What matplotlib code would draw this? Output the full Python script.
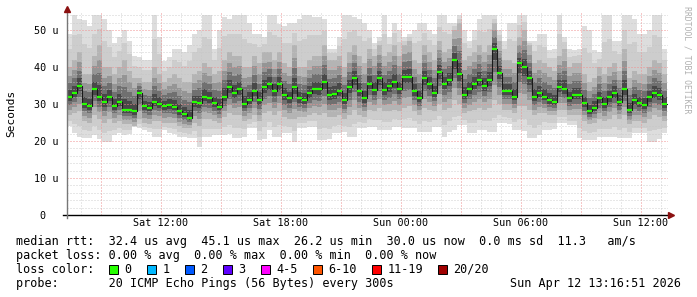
import numpy as np
import matplotlib
matplotlib.use('Agg')
import matplotlib.pyplot as plt
from matplotlib.patches import Rectangle
from matplotlib.ticker import MultipleLocator, FuncFormatter

plt.rcParams['font.family'] = 'DejaVu Sans Mono'

# time of first sample (hours after Sat 00:00) and step (15 min)
t_start = 7.3
t_step = 0.25

# median rtt (us) per sample
med = [32, 33, 35, 30, 29.5, 34, 32, 30.5, 32, 29.5, 30.5, 28.5, 28.5, 28, 33, 29.5, 29, 30.5, 30, 29.5,
       29.6, 29.3, 28, 27.3, 26.3, 30.5, 30.3, 32, 31.5, 30.2, 29.2, 32, 34.5, 33, 34, 30, 31.2, 33.5, 31, 34.5,
       35.5, 33.5, 35.5, 32.5, 31.5, 34.5, 31.5, 31, 33, 34, 34, 36, 32.5, 32.8, 33.5, 31, 34.5, 37, 33.5, 31.5,
       35.5, 33.8, 37, 33.8, 34.8, 36, 34, 37.4, 37.4, 33.5, 31.5, 37, 35.3, 33, 38.7, 35.5, 36.5, 42, 38, 32.5,
       34, 35.5, 36.5, 35, 36.5, 45, 38.5, 33.5, 33.5, 32, 41, 40, 37, 32, 33, 32, 31, 30.5, 34.5, 34,
       31.5, 32.5, 32.5, 30.2, 28, 29, 31.5, 30, 31.8, 33, 30.5, 34, 28.5, 31, 30.2, 29.8, 31.8, 33, 32.5, 30.0]

# outer smoke (slowest / fastest ping)
hi = [49, 54, 53, 52.7, 51, 54, 54, 53, 50, 46.5, 48, 50, 47, 43, 42.7, 42, 42, 54, 48, 41.5,
      42.7, 45, 45, 44, 46, 49, 50, 54, 54, 45, 50, 53.5, 53, 54, 54, 54, 52, 49, 49, 48,
      54, 54, 51.5, 51, 52, 52, 53, 54, 54, 53.5, 53.5, 53, 45, 45, 48, 54, 54, 53.5, 53, 52,
      50, 46.5, 48, 54, 48, 52, 50, 48, 49, 50, 52, 52, 50, 49, 54, 54, 52, 52, 54, 50,
      47, 50, 53, 54, 54, 54, 50, 47, 52, 52, 54, 54, 47, 47, 49, 49, 44.6, 45, 54, 48,
      45, 44.6, 45, 51, 50, 44.6, 44, 54, 54, 47, 47, 54, 54, 53, 49, 49, 50, 54, 54, 45]

lo = [24, 22.2, 21, 20.8, 20.8, 21.6, 20.5, 19.8, 19.8, 21.5, 22.1, 21.6, 21.8, 23.9, 23.5, 23, 22.5, 21.2, 21.2, 23,
      22.1, 22, 21.2, 21, 20.8, 20.8, 18.5, 21.2, 21.2, 21.6, 21.6, 21.6, 21.8, 20.7, 20.7, 21.2, 23.4, 23.4, 20.3, 20.5,
      23, 21.2, 21.2, 22.1, 22.1, 19.8, 23.4, 23.4, 23.9, 23.9, 20.3, 20.3, 20.5, 22.1, 22.1, 22.5, 21.2, 21.2, 23.4, 23.4,
      23.9, 23.9, 23, 23, 22.9, 23.9, 23.9, 23.4, 23.4, 23.4, 22.5, 22.5, 22.5, 23.9, 23.9, 21, 22.5, 23, 24.2, 24.3,
      22.1, 22.1, 23, 23, 22.5, 22.5, 24.8, 24.8, 24.5, 23, 23, 22.8, 20.7, 20.7, 21.5, 23, 23, 23.2, 24.8, 24.8,
      24.3, 24.3, 20.7, 20.3, 20.3, 20.3, 21.2, 21.2, 21.2, 21.2, 20.7, 20.7, 20.7, 22.1, 22.1, 22.1, 19.8, 19.8, 20.5, 22.1]

# inner smoke band
mhi = [40, 42, 44, 38, 38, 43, 46, 40, 40, 38, 40, 42, 39, 37, 37, 36, 36, 40, 38, 36,
       37, 38, 37, 36, 36, 38, 39, 41, 40, 38, 39, 42, 44, 43, 43, 40, 40, 43, 41, 44,
       44, 42, 44, 41, 40, 46, 40, 40, 42, 43, 43, 46, 42, 42, 43, 40, 44, 46, 43, 41,
       45, 43, 46, 43, 44, 46, 43, 46, 47, 42, 41, 46, 44, 42, 47, 44, 45, 50, 52, 42,
       43, 44, 46, 44, 46, 52, 47, 42, 42, 41, 48, 50, 46, 41, 42, 41, 40, 39, 43, 45,
       40, 41, 41, 38, 36, 37, 40, 38, 40, 41, 39, 45, 37, 39, 38, 38, 40, 42, 41, 38]

mlo = [27, 27.5, 28, 25.5, 25, 27, 26, 25, 26, 25, 25.5, 24.5, 24.5, 24, 26, 25, 24.5, 25.5, 25.5, 25,
       25, 25, 24, 23.5, 23.5, 25, 24, 26, 26, 25.5, 25, 26.5, 27.5, 27, 27, 25.5, 26, 27, 25.5, 27.5,
       28, 27, 28, 26.5, 26, 26, 26.5, 26.5, 27, 27.5, 27, 27.5, 26.5, 26.5, 27, 26, 27, 28.5, 27, 26.5,
       28.5, 28, 29, 28, 28, 28.5, 28, 29, 29.5, 28, 27, 29, 28.5, 28, 30, 28.5, 29, 31, 30, 27.5,
       28, 28.5, 29, 28.5, 29, 31, 30, 28.5, 28.5, 27.5, 29.5, 29.5, 28.5, 27, 27.5, 27.5, 27, 27, 28.5, 28.5,
       27, 27, 27, 25.5, 24.5, 25, 26, 25.5, 26, 27, 26, 27, 24.5, 25.5, 25.5, 25, 26, 27, 26.5, 25.5]

x_ticks = [12, 18, 24, 30, 36]
x_labels = ['Sat 12:00', 'Sat 18:00', 'Sun 00:00', 'Sun 06:00', 'Sun 12:00']
y_ticks = [0, 10, 20, 30, 40, 50]
y_labels = ['0  ', '10 u', '20 u', '30 u', '40 u', '50 u']

loss_labels = ['0', '1', '2', '3', '4-5', '6-10', '11-19', '20/20']
loss_colors = ['#26ff00', '#00b8ff', '#0059ff', '#5e00ff', '#ff00ff', '#ff5500', '#ff0000', '#a00000']

legend_lines = [
    'median rtt:  32.4 us avg  45.1 us max  26.2 us min  30.0 us now  0.0 ms sd  11.3   am/s',
    'packet loss: 0.00 % avg  0.00 % max  0.00 % min  0.00 % now',
    'loss color:',
    'probe:       20 ICMP Echo Pings (56 Bytes) every 300s',
]
stamp = 'Sun Apr 12 13:16:51 2026'

W, H = 697, 297
fig = plt.figure(figsize=(W / 100, H / 100), dpi=100)
fig.patch.set_facecolor('white')
ax = fig.add_axes([67 / W, 1 - 215 / H, 601 / W, 203.5 / H])

t = t_start + t_step * np.arange(len(med) + 1)
x_end = t[-1] + 0.05


def ext(a):
    return np.append(np.asarray(a, float), a[-1])


m, l1, h1, l2, h2 = ext(med), ext(lo), ext(hi), ext(mlo), ext(mhi)

# smoke shading, light outside, dark toward the median
shades = [('#dddddd', 1.0), ('#cdcdcd', 0.55)]
for col, f in shades:
    ax.fill_between(t, l2 + (l1 - l2) * f, h2 + (h1 - h2) * f, step='post', color=col, lw=0, zorder=1)
shades = [('#b4b4b4', 1.0), ('#959595', 0.7), ('#707070', 0.45), ('#484848', 0.22)]
for col, f in shades:
    ax.fill_between(t, m + (l2 - m) * f, m + (h2 - m) * f, step='post', color=col, lw=0, zorder=1)

ax.step(t, m, where='post', color='#1a1a1a', lw=0.8, zorder=3)
ax.hlines(med, t[:-1], t[1:], color=loss_colors[0], lw=1.6, zorder=4)

ax.set_xlim(t_start, x_end)
ax.set_ylim(0, 55)

lab = dict(zip(x_ticks, x_labels))
ax.xaxis.set_major_locator(MultipleLocator(3))
ax.xaxis.set_minor_locator(MultipleLocator(1))
ax.xaxis.set_major_formatter(FuncFormatter(lambda v, p: lab.get(int(round(v)), '')))
ax.yaxis.set_minor_locator(MultipleLocator(2))
ax.set_yticks(y_ticks)
ax.set_yticklabels(y_labels)

ax.set_axisbelow(False)
ax.grid(which='minor', color='#c4c4c4', lw=0.72, ls=(0, (1, 2)), alpha=0.8)
ax.grid(which='major', color='#f09090', lw=0.72, ls=(0, (1, 2)))
ax.tick_params(which='both', length=0)
ax.tick_params(axis='x', labelsize=7.3, pad=2.5)
ax.tick_params(axis='y', labelsize=7.3, pad=6)
for s in ax.spines.values():
    s.set_visible(False)

# axis lines with arrow heads
ax.plot([t_start - 0.2, x_end + 0.1], [0, 0], color='black', lw=1, clip_on=False, zorder=5)
ax.plot([t_start, t_start], [-0.8, 55.5], color='#777777', lw=1, clip_on=False, zorder=5)
ax.plot([x_end + 0.15], [0], marker='>', ms=4, color='#8b1010', clip_on=False, zorder=6)
ax.plot([t_start], [55.8], marker='^', ms=4, color='#8b1010', clip_on=False, zorder=6)

fig.text(11 / W, 1 - 113 / H, 'Seconds', rotation=90, fontsize=8, ha='center', va='center')
fig.text(687 / W, 1 - 60 / H, 'RRDTOOL / TOBI OETIKER', rotation=270, fontsize=5.9,
         color='#b0b0b0', ha='center', va='center')

rows = [241, 255.5, 269.5, 284]
for y, s in zip(rows, legend_lines):
    fig.text(16 / W, 1 - y / H, s, fontsize=8.5, va='center')
fig.text(681 / W, 1 - rows[3] / H, stamp, fontsize=8.5, va='center', ha='right')

cw = 7.08
x = 109
for name, col in zip(loss_labels, loss_colors):
    fig.add_artist(Rectangle((x / W, 1 - (rows[2] + 4.5) / H), 9 / W, 9 / H, facecolor=col,
                             edgecolor='black', lw=0.7, transform=fig.transFigure))
    fig.text((x + 15.5) / W, 1 - rows[2] / H, name, fontsize=8.5, va='center')
    x = x + 15.5 + cw * len(name) + 15.3

fig.savefig('out.png', dpi=100)
